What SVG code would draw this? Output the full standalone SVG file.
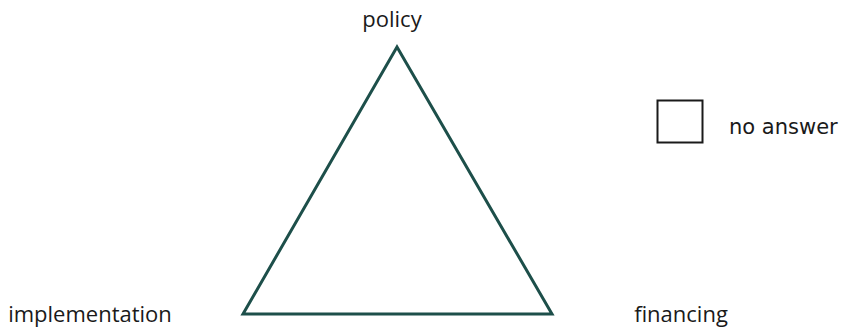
<svg xmlns="http://www.w3.org/2000/svg" width="846" height="328" viewBox="0 0 846 328">
<style>
.lbl{font-family:"Open Sans","Liberation Sans",sans-serif;font-size:22px;fill:#1a1a1a}
.leg{font-family:"DejaVu Sans","Liberation Sans",sans-serif;font-size:21px;fill:#1a1a1a}
</style>
<rect width="846" height="328" fill="#ffffff"/>
<g id="connectors">
<polygon points="397,47 243,314 552,314" fill="none" stroke="#1d4f4a" stroke-width="3" stroke-linejoin="miter"/>
</g>
<g id="policy"><text class="lbl" x="392" y="27" text-anchor="middle">policy</text></g>
<g id="implementation"><text class="lbl" x="90" y="322" text-anchor="middle">implementation</text></g>
<g id="financing"><text class="lbl" x="681" y="322" text-anchor="middle">financing</text></g>
<g id="legend">
<rect x="657.5" y="100.5" width="45" height="42" fill="none" stroke="#1a1a1a" stroke-width="2"/>
<text class="leg" x="729" y="134">no answer</text>
</g>
</svg>
